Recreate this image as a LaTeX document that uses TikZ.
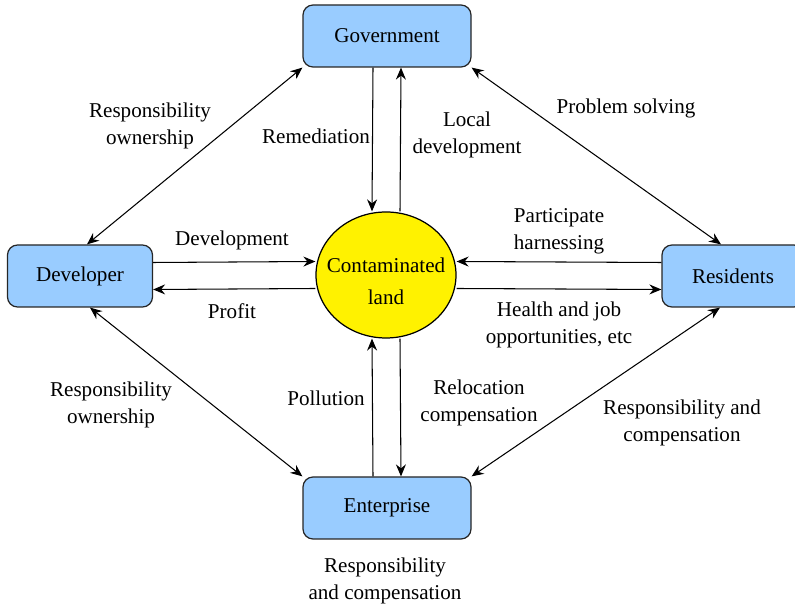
\documentclass[tikz,border=0pt]{standalone}
\usepackage{fontspec}
\setmainfont{Liberation Serif}
\newfontfamily\labelfont{Liberation Serif}
\usetikzlibrary{shapes.geometric, arrows.meta, positioning, calc}

\definecolor{actorblue}{HTML}{99CCFF}

\begin{document}
\begin{tikzpicture}[
    font=\labelfont\fontsize{12}{15.4}\selectfont,
    line width=0.6pt,
    >={Stealth[length=2.4mm, width=2mm, inset=0.8mm]},
    actor node/.style={
        rectangle,
        rounded corners=0.2cm,
        draw=black!85,
        fill=actorblue,
        line width=0.7pt,
        minimum height=1.24cm
    },
    land node/.style={
        ellipse,
        draw=black,
        fill=yellow,
        line width=0.7pt,
        inner sep=0pt,
        minimum width=2.8cm,
        minimum height=2.52cm
    },
    relation label/.style={
        align=center
    }
]

    \useasboundingbox (0,0) rectangle (15.9,12.1);

    \node[land node] (land) at (7.72, 6.6) {};
    \node[relation label] (land-text) at ([yshift=-0.12cm]land.center) {Contaminated\\[3pt]land};

    \node[actor node, minimum width=3.36cm] (gov) at (7.74, 11.38) {Government};
    \node[actor node, minimum width=2.9cm] (dev) at (1.6, 6.58) {Developer};
    \node[actor node, minimum width=2.84cm] (res) at (14.66, 6.58) {Residents};
    \node[actor node, minimum width=3.36cm] (ent) at (7.74, 1.94) {Enterprise};

    % --- Government <-> land ---
    \draw[->] ([xshift=-0.28cm]gov.south) -- ([xshift=-0.28cm]land.north);
    \draw[->] ([xshift=0.28cm]land.north) -- ([xshift=0.28cm]gov.south);

    % --- Enterprise <-> land ---
    \draw[->] ([xshift=-0.28cm]ent.north) -- ([xshift=-0.28cm]land.south);
    \draw[->] ([xshift=0.28cm]land.south) -- ([xshift=0.28cm]ent.north);

    % --- Developer <-> land ---
    \draw[->] ([yshift=0.27cm]dev.east) -- ([yshift=0.27cm]land.west);
    \draw[->] ([yshift=-0.27cm]land.west) -- ([yshift=-0.27cm]dev.east);

    % --- Residents <-> land ---
    \draw[->] ([yshift=0.27cm]res.west) -- ([yshift=0.27cm]land.east);
    \draw[->] ([yshift=-0.27cm]land.east) -- ([yshift=-0.27cm]res.west);

    % --- outer ring ---
    \draw[<->] (gov.south west) -- ([xshift=0.14cm]dev.north);
    \draw[<->] (gov.south east) -- ([xshift=-0.24cm]res.north);
    \draw[<->] ([xshift=0.2cm]dev.south) -- (ent.north west);
    \draw[<->] ([xshift=-0.26cm]res.south) -- (ent.north east);

    % --- labels ---
    \node[relation label] (l-own-top) at (3.0, 9.59) {Responsibility\\ownership};
    \node[relation label] (l-problem) at (12.52, 9.93) {Problem solving};
    \node[relation label] (l-remed) at (6.32, 9.37) {Remediation};
    \node[relation label] (l-local) at (9.34, 9.41) {Local\\development};
    \node[relation label] (l-devel) at (4.64, 7.29) {Development};
    \node[relation label] (l-profit) at (4.64, 5.87) {Profit};
    \node[relation label] (l-partic) at (11.18, 7.47) {Participate\\harnessing};
    \node[relation label] (l-health) at (11.18, 5.61) {Health and job\\opportunities, etc};
    \node[relation label] (l-own-bot) at (2.22, 4.01) {Responsibility\\ownership};
    \node[relation label] (l-pollut) at (6.52, 4.13) {Pollution};
    \node[relation label] (l-reloc) at (9.58, 4.05) {Relocation\\compensation};
    \node[relation label] (l-resp-res) at (13.64, 3.65) {Responsibility and\\compensation};
    \node[relation label] (l-resp-ent) at (7.7, 0.49) {Responsibility\\and compensation};

\end{tikzpicture}
\end{document}
